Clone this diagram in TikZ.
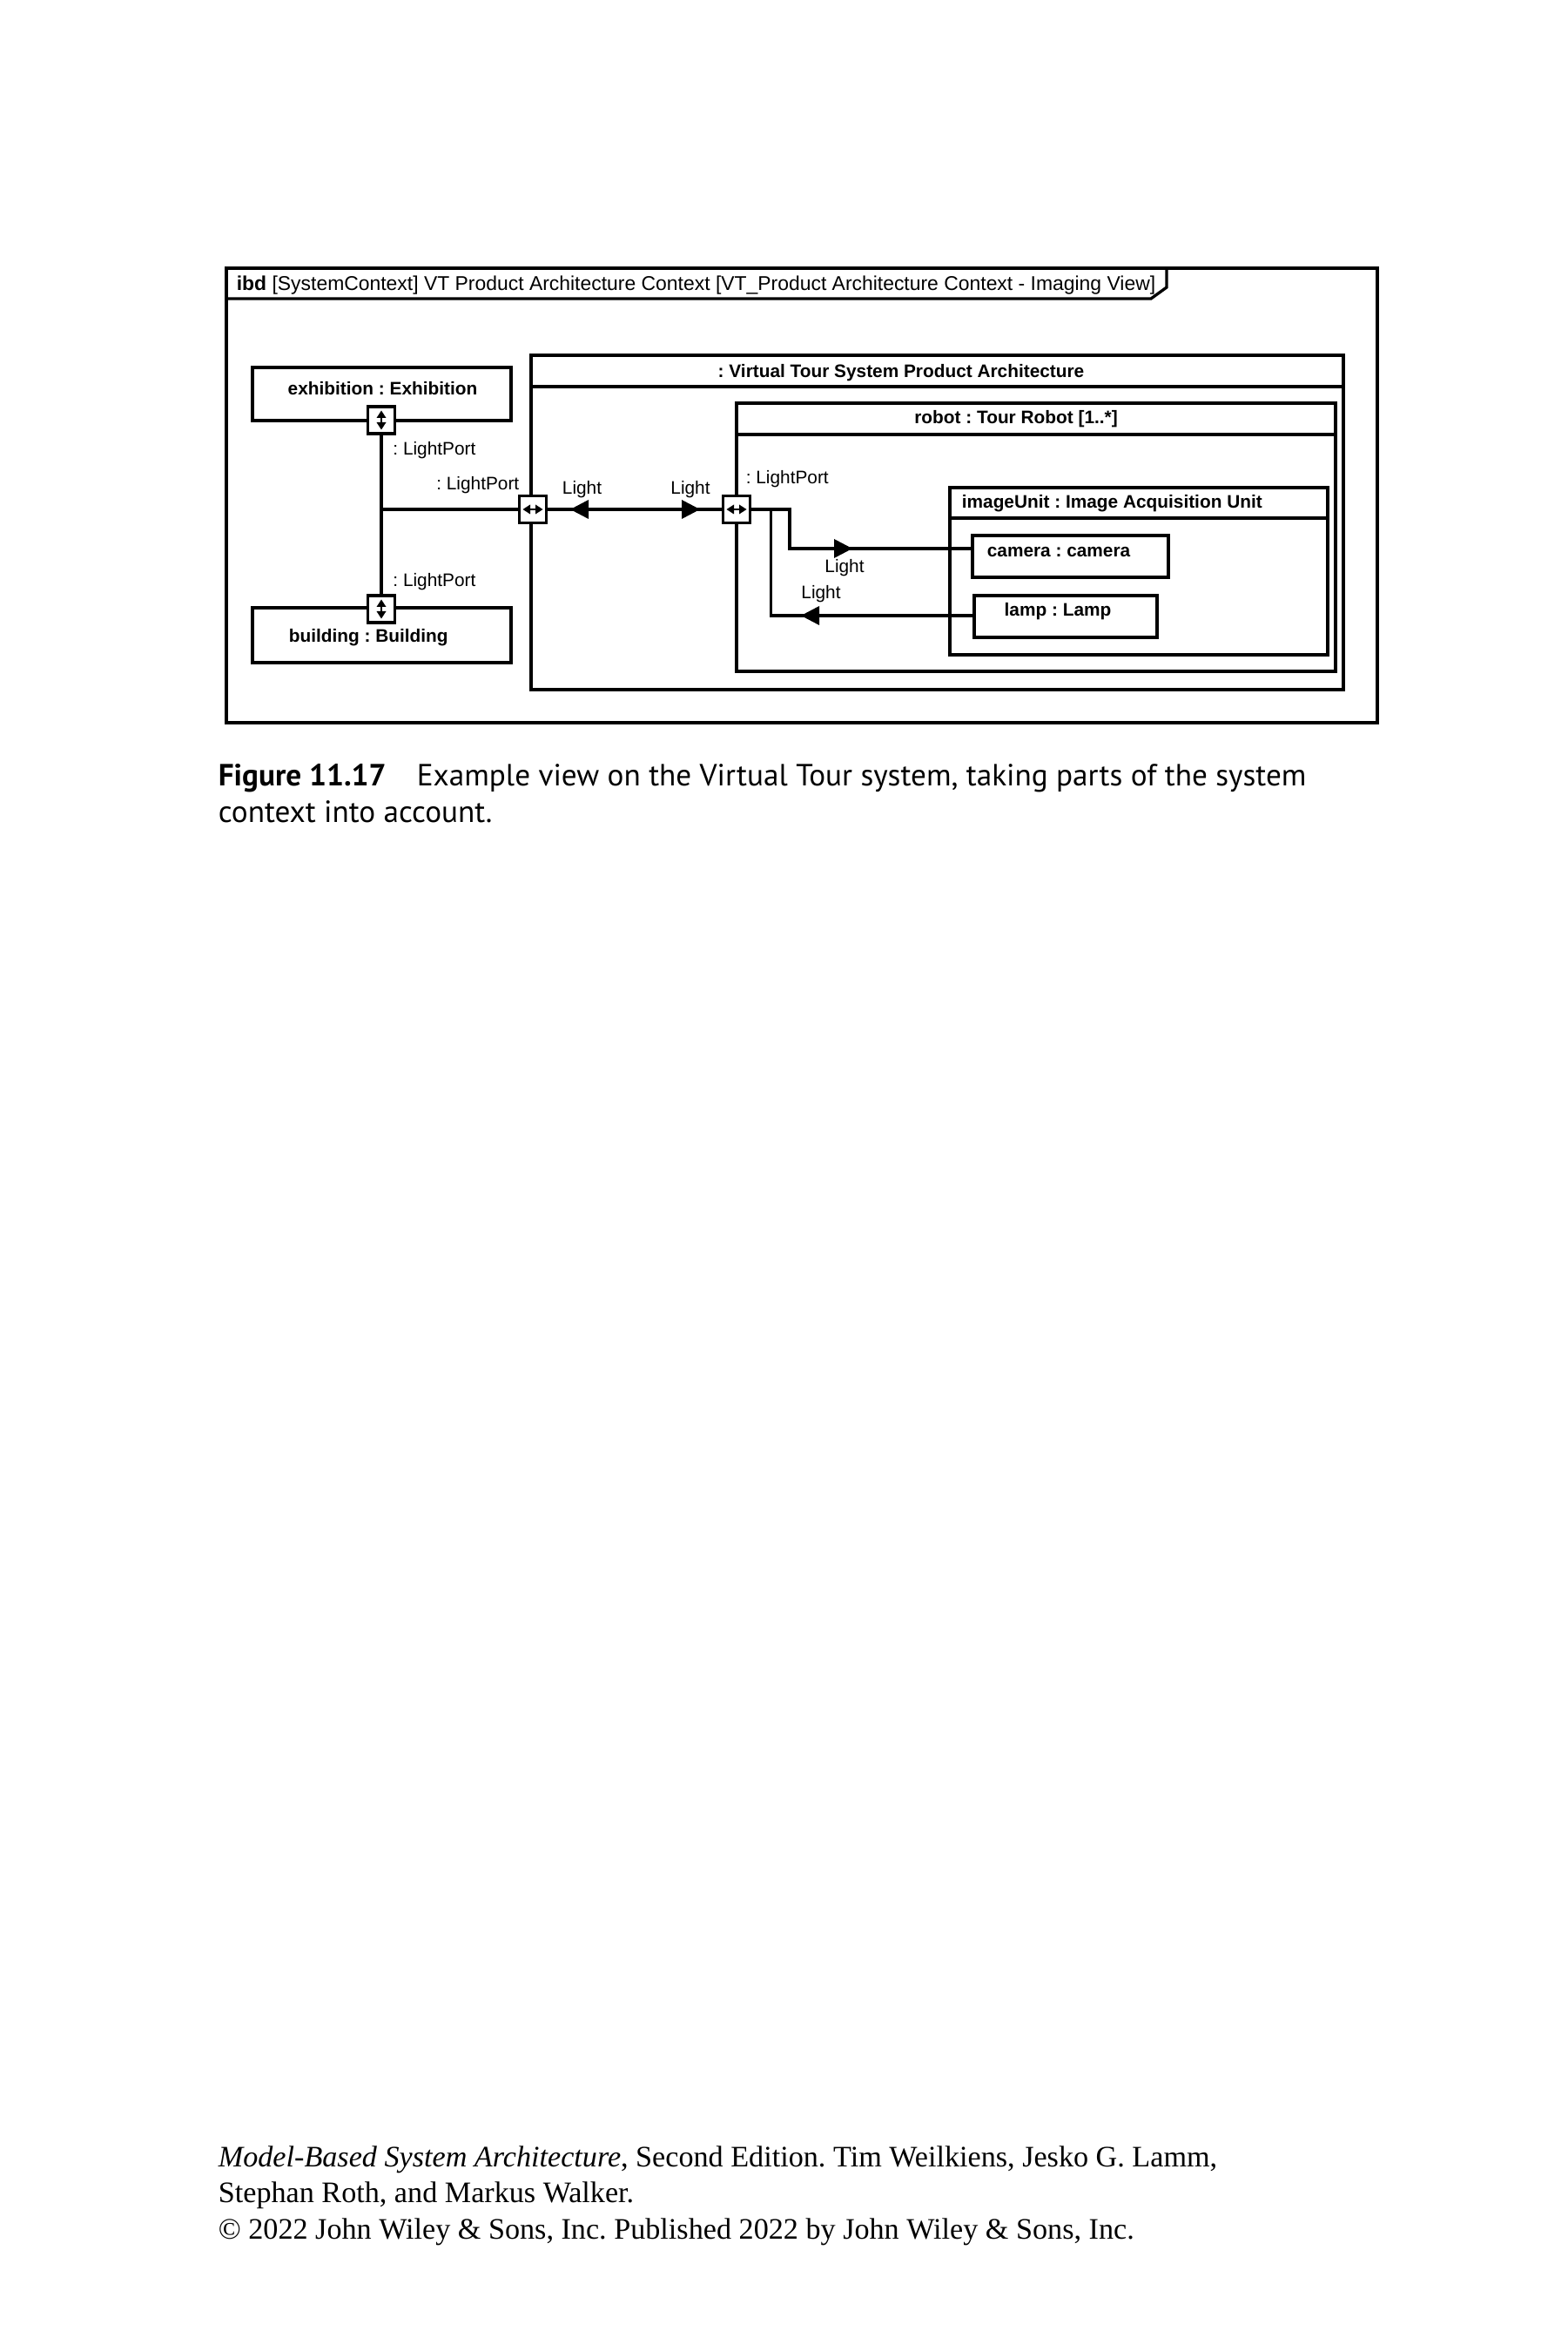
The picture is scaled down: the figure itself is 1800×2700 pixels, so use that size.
\documentclass[tikz,border=0pt]{standalone}
\usepackage{fontspec}
\setmainfont{Liberation Sans}
\newfontfamily\capfont{PT Sans}
\newfontfamily\footfont{Liberation Serif}
\usetikzlibrary{fit,calc}
\frenchspacing
\tikzset{
  blk/.style={draw, line width=0.8pt, inner sep=0pt},
  conn/.style={line width=0.8pt},
  lbl/.style={inner sep=0pt, font=\fontsize{5}{6}\selectfont},
  blbl/.style={inner sep=0pt, font=\fontsize{5}{6}\selectfont\bfseries},
  port/.style={draw, line width=0.8pt, fill=white, minimum size=7.44pt, inner sep=0pt},
  vglyph/.pic={
    \fill (0,-11) -- (-5.5,-2.5) -- (5.5,-2.5) -- cycle;
    \fill (0,11) -- (-5.5,2.5) -- (5.5,2.5) -- cycle;
    \draw[line width=0.35pt] (0,-3) -- (0,3);
  },
  hglyph/.pic={
    \fill (-11.5,0) -- (-3,-5.5) -- (-3,5.5) -- cycle;
    \fill (11.5,0) -- (3,-5.5) -- (3,5.5) -- cycle;
    \draw[line width=0.35pt] (-3,0) -- (3,0);
  },
  caption/.style={inner sep=0pt, anchor=base west, font=\capfont\fontsize{8.45}{10}\selectfont},
  foot/.style={inner sep=0pt, anchor=base west, font=\footfont\fontsize{8.2}{10}\selectfont}
}
\begin{document}
\begin{tikzpicture}[x=0.24pt,y=-0.24pt]
\useasboundingbox (0,0) rectangle (1800,2700);
\fill[white] (0,0) rectangle (1800,2700);

% diagram frame
\node[blk, fit={(260,308) (1582,830)}] (frame) {};
\draw[conn] (260,343) -- (1322,343) -- (1340,330) -- (1340,308);
\node[inner sep=0pt, font=\fontsize{5.5}{6}\selectfont, anchor=west] (title) at (271,328) {\textbf{ibd} [SystemContext] VT Product Architecture Context [VT\_Product Architecture Context - Imaging View]};

% outer parts
\node[blk, fit={(290,422) (587,483)}] (exhibition) {};
\node[blbl] (exhibitionT) at (439.5,446) {exhibition : Exhibition};
\node[blk, fit={(290,698) (587,761)}] (building) {};
\node[blbl, anchor=west] (buildingT) at (331,732) {building : Building};

% Virtual Tour System
\node[blk, fit={(610,408) (1543,792)}] (vts) {};
\draw[conn] (610,444) -- (1543,444);
\node[blbl] (vtsT) at (1035,428) {: Virtual Tour System Product Architecture};

% robot
\node[blk, fit={(846,463) (1534,771)}] (robot) {};
\draw[conn] (846,499) -- (1534,499);
\node[blbl] (robotT) at (1167,481) {robot : Tour Robot [1..*]};

% image unit
\node[blk, fit={(1091,560) (1525,752)}] (imageUnit) {};
\draw[conn] (1091,595) -- (1525,595);
\node[blbl, anchor=west] (imageUnitT) at (1104,578) {imageUnit : Image Acquisition Unit};

\node[blk, fit={(1117,615) (1342,663)}] (camera) {};
\node[blbl, anchor=west] (cameraT) at (1133,634) {camera : camera};
\node[blk, fit={(1119,684) (1329,732)}] (lamp) {};
\node[blbl] (lampT) at (1215,702) {lamp : Lamp};

% ports
\node[port] (exPort) at (438,482.5) {};
\node[port] (bdPort) at (438,699.5) {};
\node[port] (vtsPort) at (612,585) {};
\node[port] (robotPort) at (846,585) {};

% connectors
\coordinate (junc) at (438,585);
\draw[conn] (exPort.south) -- (bdPort.north);
\draw[conn] (vtsPort.west) -- (junc);
\draw[conn] (vtsPort.east) -- (robotPort.west);
\coordinate (cb) at (907,630);
\draw[conn] (robotPort.east) -| (cb) -- (cb -| camera.west);
\coordinate (lb) at (885.5,707);
\draw[conn] (lb |- robotPort.east) -- (lb) -- (lb -| lamp.west);

% port glyphs
\pic at (exPort) {vglyph};
\pic at (bdPort) {vglyph};
\pic at (vtsPort) {hglyph};
\pic at (robotPort) {hglyph};

% item flow arrowheads
\fill (655,585) -- (676,574) -- (676,596) -- cycle;
\fill (804,585) -- (783,574) -- (783,596) -- cycle;
\fill (979,630) -- (958,619) -- (958,641) -- cycle;
\fill (920,707) -- (941,696) -- (941,718) -- cycle;

% labels
\node[lbl, anchor=west] (lp1) at (450.6,517) {: LightPort};
\node[lbl, anchor=west] (lp2) at (500.5,557) {: LightPort};
\node[lbl, anchor=west] (lp3) at (450.6,668) {: LightPort};
\node[lbl, anchor=west] (lp4) at (856,550) {: LightPort};
\node[lbl] (l1) at (668.5,562) {Light};
\node[lbl] (l2) at (793,562) {Light};
\node[lbl] (l3) at (970,652) {Light};
\node[lbl] (l4) at (943,682) {Light};

% caption
\node[caption] (cap1) at (250,902) {\textbf{Figure 11.17}\quad Example view on the Virtual Tour system, taking parts of the system};
\node[caption] (cap2) at (250,944) {context into account.};

% footer
\node[foot] (f1) at (250,2488) {\textit{Model-Based System Architecture}, Second Edition. Tim Weilkiens, Jesko G. Lamm,};
\node[foot] (f2) at (250,2529) {Stephan Roth, and Markus Walker.};
\node[foot] (f3) at (250,2571) {© 2022 John Wiley \& Sons, Inc. Published 2022 by John Wiley \& Sons, Inc.};
\end{tikzpicture}
\end{document}
